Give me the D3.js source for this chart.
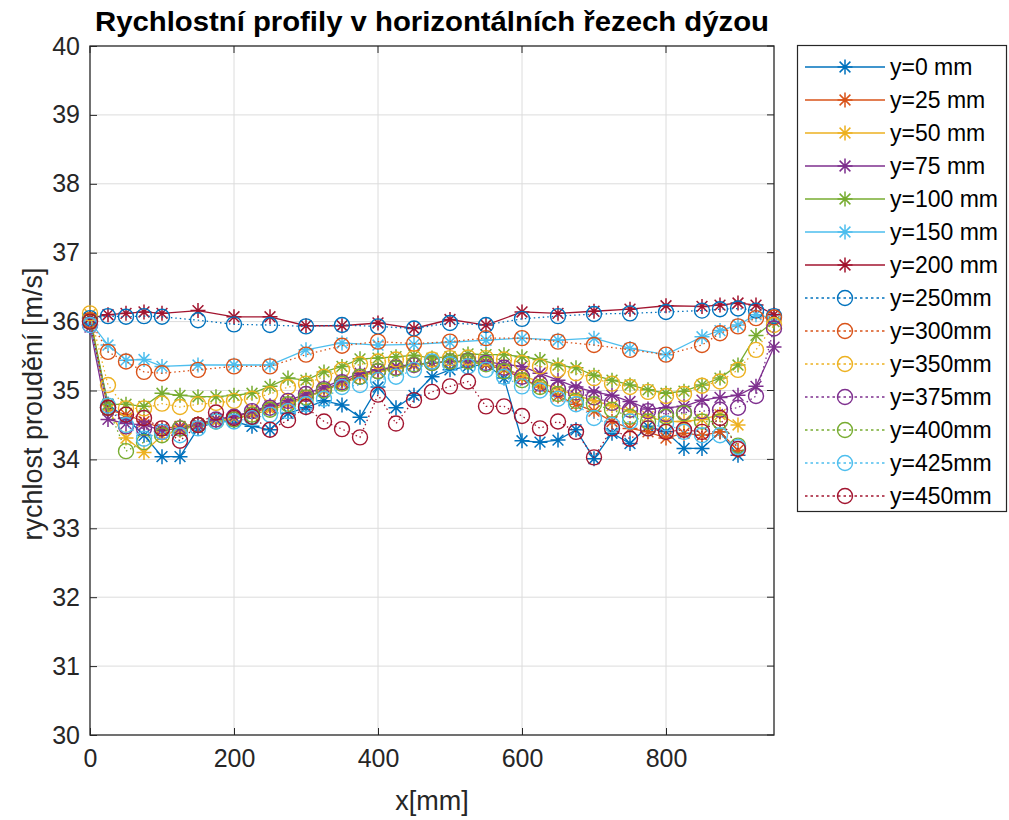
<!DOCTYPE html>
<html><head><meta charset="utf-8">
<script src="https://cdn.jsdelivr.net/npm/d3@7"></script>
<style>body{margin:0;background:#fff;} svg{display:block;font-family:"Liberation Sans",Arial,sans-serif;}</style>
</head><body>
<svg id="c" width="1009" height="820"></svg>
<script>
// ---------- data ----------
const xTop = [0,25,50,75,100,150,200,250,300,350,400,450,500,550,600,650,700,750,800,850,875,900,925,950];
const x25 = [0,25,50,75,100,125,150,175,200,225,250,275,300,325,350,375,400,425,450,475,500,525,550,575,600,625,650,675,700,725,750,775,800,825,850,875,900,925,950];
const x25to900 = x25.slice(0, 37);

const labels = ["y=0 mm","y=25 mm","y=50 mm","y=75 mm","y=100 mm","y=150 mm","y=200 mm",
                "y=250mm","y=300mm","y=350mm","y=375mm","y=400mm","y=425mm","y=450mm"];
const colors = ["#0072BD","#D95319","#EDB120","#7E2F8E","#77AC30","#4DBEEE","#A2142F",
                "#0072BD","#D95319","#EDB120","#7E2F8E","#77AC30","#4DBEEE","#A2142F"];
const markers = ["star","star","star","star","star","star","star",
                 "circle","circle","circle","circle","circle","circle","circle"];

const v_y0 = [36.00,34.80,34.60,34.35,34.04,34.04,34.45,34.55,34.55,34.48,34.43,34.67,34.75,34.85,34.79,34.61,35.05,34.75,34.93,35.20,35.30,35.35,35.38,35.18,34.27,34.25,34.28,34.43,34.01,34.38,34.23,34.48,34.40,34.16,34.16,34.40,34.06];
const v_y25 = [36.05,34.72,34.65,34.55,34.45,34.48,34.52,34.58,34.62,34.68,34.75,34.82,34.92,35.00,35.12,35.22,35.30,35.33,35.37,35.40,35.42,35.42,35.38,35.30,35.18,35.05,34.92,34.80,34.70,34.55,34.45,34.40,34.31,34.38,34.35,34.40,34.13];
const v_y50 = [36.10,34.72,34.31,34.10,34.35,34.42,34.50,34.55,34.60,34.65,34.72,34.80,34.90,35.00,35.10,35.20,35.28,35.32,35.36,35.40,35.42,35.42,35.40,35.32,35.22,35.12,35.02,34.93,34.85,34.78,34.70,34.62,34.55,34.55,34.58,34.65,34.50];
const v_y75 = [35.92,34.58,34.52,34.50,34.42,34.45,34.50,34.58,34.62,34.70,34.78,34.85,34.95,35.05,35.15,35.25,35.30,35.35,35.38,35.40,35.42,35.43,35.42,35.38,35.35,35.25,35.15,35.05,34.98,34.93,34.84,34.73,34.75,34.77,34.86,34.90,34.93,35.06,35.63];
const v_y100 = [36.05,34.80,34.80,34.77,34.96,34.93,34.91,34.91,34.93,34.96,35.06,35.18,35.15,35.27,35.35,35.46,35.47,35.49,35.51,35.47,35.49,35.53,35.52,35.52,35.49,35.45,35.37,35.33,35.22,35.15,35.08,35.01,34.96,34.99,35.08,35.18,35.37,35.80,36.00];
const v_y150 = [36.00,35.66,35.44,35.45,35.35,35.37,35.37,35.37,35.59,35.69,35.66,35.67,35.70,35.73,35.76,35.73,35.76,35.61,35.52,35.78,35.87,35.95,36.10,36.05];
const v_y200 = [36.05,36.10,36.12,36.14,36.12,36.16,36.07,36.07,35.94,35.94,35.98,35.90,36.03,35.95,36.14,36.12,36.15,36.18,36.23,36.22,36.24,36.27,36.24,36.10];
const v_y250 = [36.05,36.08,36.07,36.08,36.07,36.02,35.96,35.95,35.93,35.95,35.93,35.90,35.98,35.95,36.04,36.08,36.11,36.12,36.14,36.16,36.18,36.19,36.16,36.08];
const v_y300 = [36.02,35.56,35.42,35.27,35.25,35.30,35.35,35.35,35.52,35.65,35.71,35.68,35.71,35.76,35.76,35.71,35.66,35.59,35.52,35.66,35.83,35.93,36.05,36.06];
const v_y350 = [36.12,35.08,34.74,34.74,34.81,34.76,34.80,34.82,34.85,34.88,34.95,35.05,35.10,35.20,35.30,35.38,35.42,35.45,35.47,35.45,35.47,35.48,35.47,35.45,35.40,35.35,35.30,35.25,35.18,35.10,35.05,34.98,34.92,34.95,35.07,35.13,35.30,35.59,35.95];
const v_y375 = [35.95,34.75,34.48,34.45,34.40,34.45,34.50,34.58,34.62,34.70,34.75,34.85,34.95,35.02,35.12,35.20,35.28,35.33,35.37,35.40,35.42,35.43,35.40,35.33,35.20,35.10,35.02,34.97,34.90,34.82,34.72,34.70,34.66,34.68,34.70,34.72,34.75,34.92,35.90];
const v_y400 = [36.00,34.75,34.12,34.25,34.35,34.45,34.50,34.55,34.58,34.65,34.72,34.80,34.90,35.00,35.10,35.20,35.28,35.32,35.38,35.40,35.42,35.42,35.38,35.28,35.15,35.05,34.95,34.85,34.80,34.72,34.62,34.55,34.62,34.67,34.55,34.55,34.20];
const v_y425 = [35.95,34.78,34.50,34.30,34.40,34.35,34.45,34.55,34.55,34.60,34.65,34.70,34.80,34.88,35.05,35.08,35.15,35.20,35.30,35.42,35.38,35.35,35.30,35.20,35.06,35.00,34.88,34.80,34.60,34.50,34.55,34.45,34.52,34.40,34.35,34.35,34.18];
const v_y450 = [36.00,34.75,34.65,34.60,34.45,34.27,34.50,34.68,34.60,34.62,34.43,34.57,34.76,34.55,34.44,34.32,34.94,34.52,34.86,34.98,35.06,35.13,34.77,34.77,34.63,34.45,34.55,34.40,34.03,34.45,34.30,34.45,34.40,34.43,34.40,34.60,34.15];

const seriesX = [x25to900,x25to900,x25to900,x25,x25,xTop,xTop,xTop,xTop,x25,x25,x25to900,x25to900,x25to900];
const seriesV = [v_y0,v_y25,v_y50,v_y75,v_y100,v_y150,v_y200,v_y250,v_y300,v_y350,v_y375,v_y400,v_y425,v_y450];

const xTicks = [0,200,400,600,800];
const yTicks = [30,31,32,33,34,35,36,37,38,39,40];

// ---------- layout ----------
const svg = d3.select("#c");
const L = 90, R = 774, T = 46, B = 735;
const x = d3.scaleLinear().domain([0,950]).range([L,R]);
const y = d3.scaleLinear().domain([30,40]).range([B,T]);
const axisCol = "#262626";

// grid
const g = svg.append("g");
g.selectAll("line.gx").data(xTicks.slice(1)).join("line")
  .attr("x1",d=>x(d)).attr("x2",d=>x(d)).attr("y1",T).attr("y2",B)
  .attr("stroke","#dcdcdc").attr("stroke-width",1);
g.selectAll("line.gy").data(yTicks.slice(1,-1)).join("line")
  .attr("x1",L).attr("x2",R).attr("y1",d=>y(d)).attr("y2",d=>y(d))
  .attr("stroke","#dcdcdc").attr("stroke-width",1);

// axes
const xAxis = d3.axisBottom(x).tickValues(xTicks).tickSize(-7).tickPadding(14).tickFormat(d3.format("d"));
const yAxis = d3.axisLeft(y).tickValues(yTicks).tickSize(-7).tickPadding(10).tickFormat(d3.format("d"));
const gx = svg.append("g").attr("transform",`translate(0,${B})`).call(xAxis);
const gy = svg.append("g").attr("transform",`translate(${L},0)`).call(yAxis);
[gx,gy].forEach(a=>{
  a.select(".domain").remove();
  a.selectAll(".tick line").attr("stroke",axisCol);
  a.selectAll(".tick text").attr("fill",axisCol).attr("font-size",25).attr("font-family","Liberation Sans, Arial, sans-serif");
});
// top/right ticks
svg.append("g").selectAll("line").data(xTicks).join("line")
  .attr("x1",d=>x(d)).attr("x2",d=>x(d)).attr("y1",T).attr("y2",T+7).attr("stroke",axisCol);
svg.append("g").selectAll("line").data(yTicks).join("line")
  .attr("x1",R).attr("x2",R-7).attr("y1",d=>y(d)).attr("y2",d=>y(d)).attr("stroke",axisCol);
svg.append("rect").attr("x",L).attr("y",T).attr("width",R-L).attr("height",B-T)
  .attr("fill","none").attr("stroke",axisCol).attr("stroke-width",1.3);

// markers
function starPath(s){
  const d = s*0.72;
  return `M0,${-s}L0,${s}M${-s},0L${s},0M${-d},${-d}L${d},${d}M${-d},${d}L${d},${-d}`;
}
function drawMarker(sel, type, col){
  if(type==="star"){
    sel.append("path").attr("d",starPath(7.5)).attr("stroke",col).attr("stroke-width",1.5).attr("fill","none");
  } else {
    sel.append("circle").attr("r",7.5).attr("stroke",col).attr("stroke-width",1.4).attr("fill","none");
  }
}

// series
const line = d3.line().x(d=>x(d[0])).y(d=>y(d[1]));
seriesV.forEach((vals,i)=>{
  const pts = vals.map((v,j)=>[seriesX[i][j], v]);
  const sg = svg.append("g");
  sg.append("path").attr("d",line(pts)).attr("fill","none").attr("stroke",colors[i])
    .attr("stroke-width",1.3).attr("stroke-dasharray",markers[i]==="circle"?"1.5,3":null);
  pts.forEach(p=>{
    const m = sg.append("g").attr("transform",`translate(${x(p[0])},${y(p[1])})`);
    drawMarker(m, markers[i], colors[i]);
  });
});

// title and labels
svg.append("text").attr("x",432).attr("y",31).attr("text-anchor","middle")
  .attr("font-size",28).attr("font-weight","bold").attr("fill","#000")
  .attr("textLength",674).attr("lengthAdjust","spacingAndGlyphs")
  .text("Rychlostní profily v horizontálních řezech dýzou");
svg.append("text").attr("x",432).attr("y",810).attr("text-anchor","middle")
  .attr("font-size",27).attr("fill",axisCol).text("x[mm]");
svg.append("text").attr("transform","translate(42,404) rotate(-90)").attr("text-anchor","middle")
  .attr("font-size",27).attr("fill",axisCol).text("rychlost proudění [m/s]");

// legend
const lg = svg.append("g");
lg.append("rect").attr("x",797.5).attr("y",45.5).attr("width",209).attr("height",466)
  .attr("fill","#fff").attr("stroke",axisCol).attr("stroke-width",1.2);
labels.forEach((lab,i)=>{
  const yy = 67 + i*33;
  lg.append("line").attr("x1",805).attr("x2",885).attr("y1",yy).attr("y2",yy)
    .attr("stroke",colors[i]).attr("stroke-width",1.3)
    .attr("stroke-dasharray",markers[i]==="circle"?"2.5,3":null);
  const m = lg.append("g").attr("transform",`translate(845,${yy})`);
  drawMarker(m, markers[i], colors[i]);
  lg.append("text").attr("x",890).attr("y",yy+8).attr("font-size",23).attr("fill","#000").text(lab);
});
</script>
</body></html>
